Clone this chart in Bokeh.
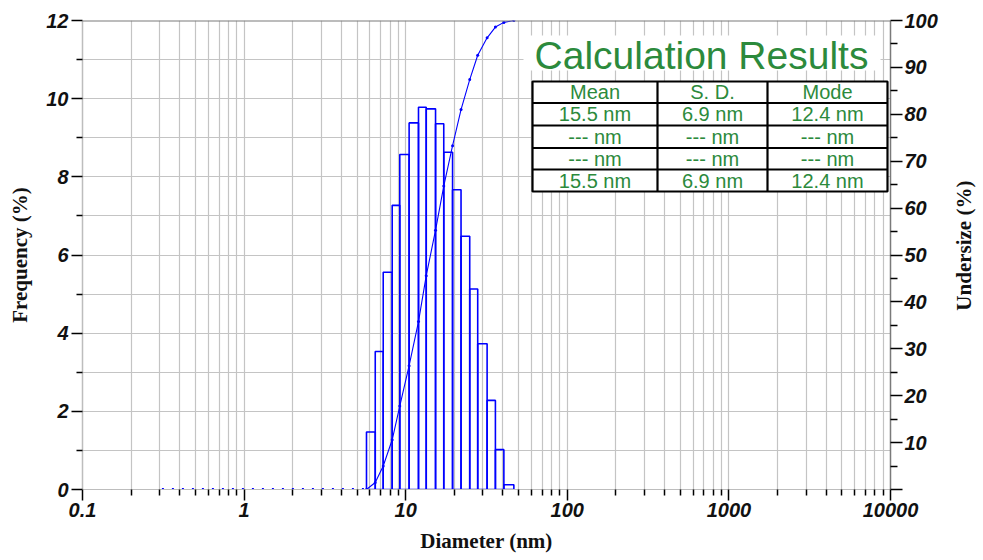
import math
from bokeh.plotting import figure
from bokeh.layouts import row
from bokeh.models import Range1d, LinearAxis, FixedTicker, Span
from bokeh.core.properties import value
from bokeh.embed import file_html
from bokeh.resources import INLINE

# ---------------- data ----------------
bin_edges = [5.72, 6.48, 7.26, 8.25, 9.19, 10.5, 12.0, 13.4, 15.3, 17.2,
             19.5, 22.0, 24.9, 27.9, 31.9, 35.9, 40.5, 46.7]
frequency = [1.47, 3.53, 5.56, 7.27, 8.57, 9.38, 9.78, 9.74, 9.36, 8.63,
             7.67, 6.48, 5.13, 3.73, 2.28, 1.02, 0.12]
undersize = [0, 1.5, 5.0, 10.6, 17.8, 26.4, 35.8, 45.6, 55.3, 64.7,
             73.3, 81.0, 87.4, 92.6, 96.3, 98.6, 99.6, 100.0]
zero_start = 0.31  # where the undersize curve starts (at 0 %)

x_major_ticks = [0.1, 1, 10, 100, 1000, 10000]
x_minor_ticks = [m * t for t in [0.1, 1, 10, 100, 1000] for m in range(2, 10)]
freq_major_ticks = [0, 2, 4, 6, 8, 10, 12]
freq_minor_ticks = [1, 3, 5, 7, 9, 11]
under_major_ticks = [0, 10, 20, 30, 40, 50, 60, 70, 80, 90, 100]
under_minor_ticks = [5, 15, 25, 35, 45, 55, 65, 75, 85, 95]

table_title = "Calculation Results"
table_headers = ["Mean", "S. D.", "Mode"]
table_rows = [["15.5 nm", "6.9 nm", "12.4 nm"],
              ["--- nm", "--- nm", "--- nm"],
              ["--- nm", "--- nm", "--- nm"],
              ["15.5 nm", "6.9 nm", "12.4 nm"]]

# ---------------- styling / layout ----------------
BLUE = "#0000ff"
GREEN = "#2c8a3c"
GRID = "#c4c4c4"
TICK_FONT = "Liberation Sans"
TITLE_FONT = "Liberation Serif"

# frame position on the page (px)
FX0, FX1, FY0, FY1 = 82, 890, 20, 489
RIGHT_BORDER = 58
BOTTOM_BORDER = 71


def xd(px):
    return 10 ** (-1 + 5 * (px - FX0) / (FX1 - FX0))


def yd(py):
    return 12 * (FY1 - py) / (FY1 - FY0)


p = figure(x_axis_type="log", x_range=Range1d(0.1, 10000), y_range=Range1d(0, 12),
           frame_width=FX1 - FX0, frame_height=FY1 - FY0,
           min_border_left=FX0, min_border_right=RIGHT_BORDER, min_border_top=FY0,
           min_border_bottom=BOTTOM_BORDER,
           toolbar_location=None, output_backend="svg",
           background_fill_color="white", border_fill_color="white")
p.outline_line_color = None
p.extra_y_ranges = {"u": Range1d(0, 100)}

# axes
xa = p.xaxis[0]
xa.ticker = FixedTicker(ticks=x_major_ticks, minor_ticks=x_minor_ticks)
xa.major_label_overrides = {0.1: "0.1", 1: "1", 10: "10", 100: "100", 1000: "1000", 10000: "10000"}
xa.axis_label = "Diameter (nm)"
xa.axis_label_standoff = 9
xa.major_label_standoff = 2

ya = p.yaxis[0]
ya.ticker = FixedTicker(ticks=freq_major_ticks, minor_ticks=freq_minor_ticks)
ya.axis_label = "Frequency (%)"
ya.axis_label_standoff = 11
ya.major_label_standoff = 3

ra = LinearAxis(y_range_name="u",
                ticker=FixedTicker(ticks=under_major_ticks, minor_ticks=under_minor_ticks))
ra.major_label_overrides = {0: ""}
ra.major_label_standoff = 2
p.add_layout(ra, "right")

for ax, line_col in ((xa, "#bdbdbd"), (ya, "#bdbdbd"), (ra, "#7a7a7a")):
    ax.axis_line_color = line_col
    ax.axis_line_width = 1.5
    ax.major_tick_line_color = "black"
    ax.minor_tick_line_color = "black"
    ax.major_tick_line_width = 1.5
    ax.minor_tick_line_width = 1.5
    ax.major_tick_in = 0
    ax.minor_tick_in = 0
    ax.major_tick_out = 11
    ax.minor_tick_out = 6
    ax.major_label_text_font = TICK_FONT
    ax.major_label_text_font_style = "bold italic"
    ax.major_label_text_font_size = "20px"
    ax.major_label_text_color = "#111111"
    ax.axis_label_text_font = TITLE_FONT
    ax.axis_label_text_font_style = "bold"
    ax.axis_label_text_font_size = "21px"
    ax.axis_label_text_color = "#111111"
ra.major_tick_out = 12
ra.minor_tick_out = 7
xa.axis_line_width = 1

# grids
for g in (p.xgrid[0], p.ygrid[0]):
    g.grid_line_color = GRID
    g.grid_line_width = 1.2
    g.minor_grid_line_color = GRID
    g.minor_grid_line_width = 1.2

# histogram
p.quad(left=bin_edges[:-1], right=bin_edges[1:], bottom=0, top=frequency,
       fill_color=None, line_color=BLUE, line_width=1.6)

# undersize curve
p.line(x=[zero_start, bin_edges[0]], y=[0, 0], y_range_name="u",
       line_color=BLUE, line_width=3, line_dash="2 8")
p.line(x=bin_edges, y=undersize, y_range_name="u", line_color=BLUE, line_width=1.1)
p.scatter(x=bin_edges, y=undersize, y_range_name="u", size=3,
          fill_color=BLUE, line_color=None)

# top border
p.add_layout(Span(location=12, dimension="width", line_color="#7a7a7a", line_width=2))

# ---------------- calculation results table ----------------
p.quad(left=[xd(523)], right=[xd(880)], top=[yd(35)], bottom=[yd(70)],
       fill_color="white", line_color=None)
col_px = [532, 657, 767, 887]
row_px = [81, 102.5, 125, 147.5, 169, 191]
p.quad(left=[xd(col_px[0])], right=[xd(col_px[-1])], top=[yd(row_px[0])],
       bottom=[yd(row_px[-1])], fill_color="white", line_color="black", line_width=2.2)
p.segment(x0=[xd(c) for c in col_px[1:-1]], x1=[xd(c) for c in col_px[1:-1]],
          y0=yd(row_px[0]), y1=yd(row_px[-1]), line_color="black", line_width=2.2)
p.segment(x0=xd(col_px[0]), x1=xd(col_px[-1]),
          y0=[yd(r) for r in row_px[1:-1]], y1=[yd(r) for r in row_px[1:-1]],
          line_color="black", line_width=2.2)

p.text(x=[xd(701)], y=[yd(55)], text=[table_title], text_font=value("Liberation Sans"),
       text_font_size="39px", text_color=GREEN, text_align="center",
       text_baseline="middle")

cell_x, cell_y, cell_t = [], [], []
all_rows = [table_headers] + table_rows
for i, r in enumerate(all_rows):
    for j, txt in enumerate(r):
        cell_x.append(xd((col_px[j] + col_px[j + 1]) / 2))
        cell_y.append(yd((row_px[i] + row_px[i + 1]) / 2))
        cell_t.append(txt)
p.text(x=cell_x, y=cell_y, text=cell_t, text_font=value("Liberation Sans"),
       text_font_size="20px", text_color=GREEN, text_align="center",
       text_baseline="middle")

# ---------------- right-hand title panel (reads bottom-to-top) ----------------
side_w = 983 - (FX1 + RIGHT_BORDER) - 4
p2 = figure(x_range=Range1d(0, 1), y_range=Range1d(0, 1),
            frame_width=side_w, frame_height=FY1 - FY0,
            min_border_left=0, min_border_right=0, min_border_top=FY0,
            min_border_bottom=BOTTOM_BORDER,
            toolbar_location=None, output_backend="svg",
            background_fill_color="white", border_fill_color="white")
p2.outline_line_color = None
p2.axis.visible = False
p2.grid.visible = False
p2.text(x=[0.5], y=[0.52], text=["Undersize (%)"], angle=math.pi / 2,
        text_font=value(TITLE_FONT), text_font_style="bold", text_font_size="21px",
        text_color="#111111", text_align="center", text_baseline="middle")

layout = row(p, p2, spacing=0)
open("out.html", "w").write(file_html(layout, INLINE))
